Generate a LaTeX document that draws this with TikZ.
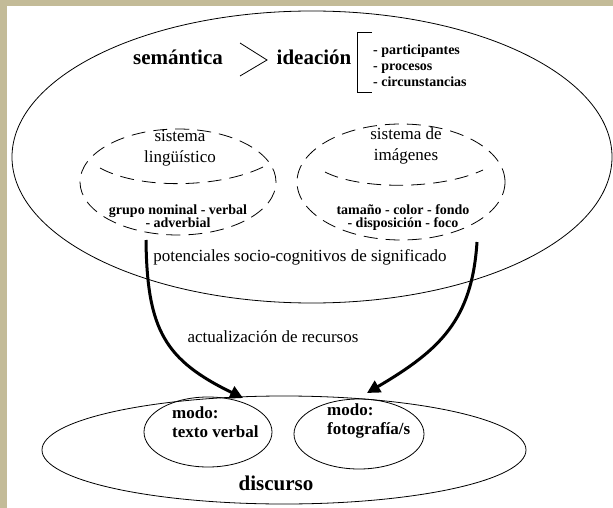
\documentclass[tikz,border=0pt]{standalone}
\usepackage{fontspec}
\setmainfont{Liberation Serif}
\usetikzlibrary{shapes.geometric,arrows.meta}
\definecolor{marco}{RGB}{195,187,152}
\tikzset{
  contorno/.style={ellipse, draw, line width=0.8pt, inner sep=0pt},
  sistema/.style={ellipse, draw, line width=0.8pt, dash pattern=on 14pt off 8pt, inner sep=0pt},
  divisor/.style={line width=0.8pt, dash pattern=on 14pt off 8pt},
  titulo/.style={font=\bfseries\fontsize{21}{24}\selectfont, inner sep=0pt},
  rotulo/.style={font=\fontsize{17}{21}\selectfont, align=center, inner sep=0pt},
  chica/.style={font=\bfseries\fontsize{14}{13}\selectfont, align=center, inner sep=0pt},
  modo/.style={font=\bfseries\fontsize{17}{19}\selectfont, align=left, anchor=west, inner sep=0pt},
  flecha/.style={line width=3pt, -{Triangle[length=13pt,width=13pt]}}
}
\begin{document}
\begin{tikzpicture}[x=1pt,y=-1pt]
  \useasboundingbox (0,0) rectangle (613,508);
  \fill[marco] (0,0) rectangle (613,508);
  \fill[white] (7,6) rectangle (613,508);

  \node[contorno, minimum width=600pt, minimum height=292pt] (semantica) at (312,157) {};
  \node[contorno, minimum width=484pt, minimum height=108pt] (discurso) at (284,450) {};
  \node[contorno, minimum width=128pt, minimum height=70pt] (texto) at (208,432) {};
  \node[contorno, minimum width=130pt, minimum height=70pt] (foto) at (359,434) {};
  \node[sistema, minimum width=196pt, minimum height=106pt] (linguistico) at (178,182) {};
  \node[sistema, minimum width=208pt, minimum height=116pt] (imagenes) at (401,182) {};

  \node[titulo] (sem) at (178,57) {semántica};
  \node[titulo] (idea) at (314,57) {ideación};
  \draw[line width=0.8pt] (240,43) -- (267,60) -- (240,76);
  \draw[line width=0.8pt] (372,32) -- (357,32) -- (357,92) -- (372,92);
  \node[font=\bfseries\fontsize{14}{16}\selectfont, align=left, anchor=west, inner sep=0pt]
    (lista) at (373,66) {- participantes\\- procesos\\- circunstancias};

  \node[rotulo] (sisL) at (180,148) {sistema\\lingüístico};
  \node[rotulo] (sisR) at (406,146) {sistema de\\imágenes};
  \draw[divisor] (100,168) .. controls (140,190) and (220,188) .. (263,167);
  \draw[divisor] (325,172) .. controls (360,190) and (440,190) .. (483,170);
  \node[chica] (grupo) at (178,216) {grupo nominal - verbal\\- adverbial};
  \node[chica] (tamano) at (403,218) {tamaño - color - fondo\\- disposición - foco};

  \node[rotulo] (potenciales) at (300,257) {potenciales socio-cognitivos de significado};
  \node[rotulo] (actualizacion) at (273,337) {actualización de recursos};

  \node[modo] (modoL) at (172,422) {modo:\\texto verbal};
  \node[modo] (modoR) at (327,421) {modo:\\fotografía/s};
  \node[titulo] (disc) at (276,483) {discurso};

  \coordinate (inicioL) at (146,240);
  \coordinate (finL) at (243,398);
  \coordinate (inicioR) at (477,242);
  \coordinate (finR) at (367,393);
  \draw[flecha] (inicioL) .. controls (147,330) and (165,360) .. (finL);
  \draw[flecha] (inicioR) .. controls (472,320) and (440,350) .. (finR);
\end{tikzpicture}
\end{document}
